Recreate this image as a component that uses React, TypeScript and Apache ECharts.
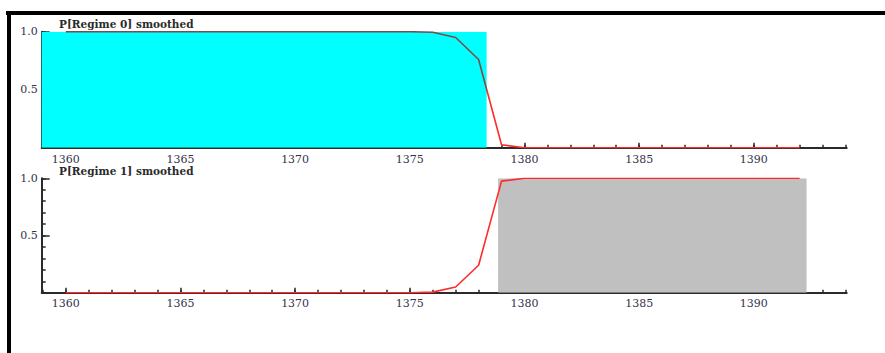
import React, { useEffect, useRef } from "react";
import * as echarts from "echarts";

const years = [
  1360, 1361, 1362, 1363, 1364, 1365, 1366, 1367, 1368, 1369, 1370, 1371, 1372, 1373, 1374, 1375,
  1376, 1377, 1378, 1379, 1380, 1381, 1382, 1383, 1384, 1385, 1386, 1387, 1388, 1389, 1390, 1391, 1392,
];
const regime0Smoothed = [
  1, 1, 1, 1, 1, 1, 1, 1, 1, 1, 1, 1, 1, 1, 1, 1,
  0.995, 0.95, 0.76, 0.025, 0, 0, 0, 0, 0, 0, 0, 0, 0, 0, 0, 0, 0,
];
const regime1Smoothed = [
  0, 0, 0, 0, 0, 0, 0, 0, 0, 0, 0, 0, 0, 0, 0, 0,
  0.005, 0.05, 0.24, 0.975, 1, 1, 1, 1, 1, 1, 1, 1, 1, 1, 1, 1, 1,
];
const regime0Shade = [1358.95, 1378.35];
const regime1Shade = [1378.85, 1392.3];
const xRange = [1358.95, 1394.05];
const xMajorRange = [1360, 1390];
const xMinorRange = [1359, 1394];
const titles = ["P[Regime 0] smoothed", "P[Regime 1] smoothed"];

const FONT = "DejaVu Serif";
const textColor = "#33334a";
const axisColor = "#2a2a2a";
const lineRed = "#ff2a2a";
const lineOverCyan = "#804a4a";

const GRID_LEFT = 41.7;
const GRID_WIDTH = 805;
const panels = [
  { top: 31.7, height: 116, labelMargin: 6, titleTop: 18.5 },
  { top: 178.3, height: 114.4, labelMargin: 5, titleTop: 165.5 },
];

const pxPerYear = GRID_WIDTH / (xRange[1] - xRange[0]);
const subGrid = (r: number[], top: number, height: number) => ({
  left: GRID_LEFT + (r[0] - xRange[0]) * pxPerYear,
  width: (r[1] - r[0]) * pxPerYear,
  top,
  height,
});

export default function App() {
  const ref = useRef<HTMLDivElement>(null);
  useEffect(() => {
    if (!ref.current) return;
    const chart = echarts.init(ref.current, null, { renderer: "svg" });

    const grids: any[] = [];
    const xAxis: any[] = [];
    const yAxis: any[] = [];
    panels.forEach((p, pi) => {
      const base = pi * 3;
      grids.push({ left: GRID_LEFT, width: GRID_WIDTH, top: p.top, height: p.height });
      grids.push(subGrid(xMajorRange, p.top, p.height));
      grids.push(subGrid(xMinorRange, p.top, p.height));
      xAxis.push({
        type: "value",
        gridIndex: base,
        min: xRange[0],
        max: xRange[1],
        axisLine: { show: true, onZero: false, lineStyle: { color: axisColor, width: 2 } },
        axisTick: { show: false },
        axisLabel: { show: false },
        splitLine: { show: false },
      });
      xAxis.push({
        type: "value",
        gridIndex: base + 1,
        min: xMajorRange[0],
        max: xMajorRange[1],
        interval: 5,
        axisLine: { show: false, onZero: false },
        axisTick: { show: true, inside: true, length: 5, lineStyle: { color: axisColor, width: 1.5 } },
        axisLabel: {
          margin: p.labelMargin,
          formatter: (v: number) => String(v),
          fontFamily: FONT,
          fontSize: 11,
          color: textColor,
        },
        splitLine: { show: false },
      });
      xAxis.push({
        type: "value",
        gridIndex: base + 2,
        min: xMinorRange[0],
        max: xMinorRange[1],
        interval: 1,
        axisLine: { show: false, onZero: false },
        axisTick: { show: true, inside: true, length: 3, lineStyle: { color: axisColor, width: 1.5 } },
        axisLabel: { show: false },
        splitLine: { show: false },
      });
      yAxis.push({
        type: "value",
        gridIndex: base,
        min: 0,
        max: 1,
        interval: 0.5,
        position: "left",
        axisLine: { show: true, onZero: false, lineStyle: { color: axisColor, width: 2 } },
        axisTick: { show: true, inside: true, length: 8, lineStyle: { color: axisColor, width: 1.5 } },
        axisLabel: {
          showMinLabel: false,
          formatter: (v: number) => (v === 0 ? "" : v.toFixed(1)),
          margin: 4,
          fontFamily: FONT,
          fontSize: 11,
          color: textColor,
        },
        splitLine: { show: false },
      });
      yAxis.push({
        type: "value",
        gridIndex: base,
        min: 0,
        max: 1,
        interval: 0.1,
        position: "left",
        axisLine: { show: false, onZero: false },
        axisTick: { show: true, inside: true, length: 4, lineStyle: { color: axisColor, width: 1.5 } },
        axisLabel: { show: false },
        splitLine: { show: false },
      });
      yAxis.push({ type: "value", gridIndex: base + 1, min: 0, max: 1, show: false });
      yAxis.push({ type: "value", gridIndex: base + 2, min: 0, max: 1, show: false });
    });

    // top line: darker where it lies over the cyan shading
    const split = (regime0Shade[1] - years[0]) / (years[years.length - 1] - years[0]);
    const topLineColor = new echarts.graphic.LinearGradient(0, 0, 1, 0, [
      { offset: 0, color: lineOverCyan },
      { offset: split, color: lineOverCyan },
      { offset: split, color: lineRed },
      { offset: 1, color: lineRed },
    ]);

    const panelData = [
      { values: regime0Smoothed, shade: regime0Shade, fill: "#00ffff", line: topLineColor },
      { values: regime1Smoothed, shade: regime1Shade, fill: "#c0c0c0", line: lineRed },
    ];
    const series: any[] = [];
    panelData.forEach((d, pi) => {
      const xi = pi * 3;
      const yi = pi * 4;
      series.push({
        type: "line",
        xAxisIndex: xi,
        yAxisIndex: yi,
        data: [
          [d.shade[0], 1],
          [d.shade[1], 1],
        ],
        showSymbol: false,
        silent: true,
        z: 1,
        lineStyle: { width: 0, color: d.fill },
        itemStyle: { color: d.fill },
        areaStyle: { color: d.fill, opacity: 1 },
      });
      series.push({
        type: "line",
        xAxisIndex: xi,
        yAxisIndex: yi,
        data: years.map((y, i) => [y, d.values[i]]),
        showSymbol: false,
        z: 3,
        lineStyle: { width: 1.6, color: d.line },
        itemStyle: { color: lineRed },
      });
    });

    chart.setOption({
      animation: false,
      backgroundColor: "#ffffff",
      title: titles.map((t, i) => ({
        text: t,
        left: 59,
        top: panels[i].titleTop,
        padding: 0,
        textStyle: { fontFamily: FONT, fontSize: 10.5, fontWeight: "bold", color: "#2a2a2a" },
      })),
      grid: grids,
      xAxis,
      yAxis,
      series,
      graphic: [
        { type: "rect", shape: { x: 6, y: 11, width: 879, height: 4 }, style: { fill: "#000" } },
        { type: "rect", shape: { x: 7, y: 11, width: 4, height: 342 }, style: { fill: "#000" } },
      ],
    });
    return () => chart.dispose();
  }, []);
  return (
    <div
      ref={ref}
      style={{ position: "fixed", left: 0, top: 0, width: 885, height: 353, background: "#fff" }}
    />
  );
}
